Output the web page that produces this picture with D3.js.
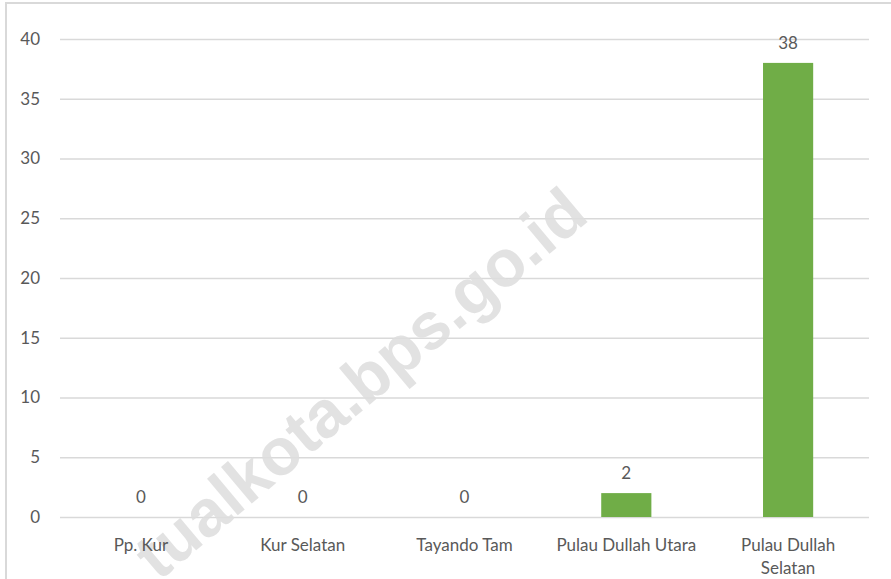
<!DOCTYPE html>
<html>
<head>
<meta charset="utf-8">
<script src="https://cdn.jsdelivr.net/npm/d3@7"></script>
<style>
  body { margin: 0; background: #fff; }
  text { font-family: Lato, "Open Sans", sans-serif; fill: #595959; }
</style>
</head>
<body>
<svg id="chart"></svg>
<script>
// data
let categories = ["Pp. Kur", "Kur Selatan", "Tayando Tam", "Pulau Dullah Utara", "Pulau Dullah Selatan"];
let values = [0, 0, 0, 2, 38];
let yTicks = [0, 5, 10, 15, 20, 25, 30, 35, 40];
let watermark = "tualkota.bps.go.id";

let width = 891, height = 579;
let plot = {left: 60, right: 869, top: 39, bottom: 517};

let svg = d3.select("#chart")
  .attr("width", width)
  .attr("height", height);

// outer chart border (only top and left visible)
svg.append("rect")
  .attr("x", 6).attr("y", 3)
  .attr("width", 1000).attr("height", 1000)
  .attr("fill", "none")
  .attr("stroke", "#d9d9d9")
  .attr("stroke-width", 2);

let x = d3.scaleBand()
  .domain(categories)
  .range([plot.left, plot.right])
  .paddingInner(0.69)
  .paddingOuter(0.345);

let y = d3.scaleLinear()
  .domain([0, 40])
  .range([plot.bottom, plot.top]);

// gridlines + y labels
let yAxis = svg.append("g")
  .attr("transform", "translate(" + plot.left + ",0)")
  .call(d3.axisLeft(y).tickValues(yTicks).tickSize(-(plot.right - plot.left)).tickPadding(20));
yAxis.select(".domain").remove();
yAxis.selectAll(".tick line").attr("stroke", "#d9d9d9").attr("stroke-width", 1.5);
yAxis.selectAll(".tick text")
  .attr("font-size", 17)
  .attr("fill", "#595959")
  .style("font-family", "Lato, sans-serif");

// watermark behind the bars
svg.append("text")
  .attr("transform", "translate(591,219) rotate(-40)")
  .attr("text-anchor", "end")
  .attr("font-size", 66)
  .attr("font-weight", "bold")
  .style("font-family", "'Liberation Sans', Arial, sans-serif")
  .style("fill", "#dedede")
  .attr("opacity", 0.85)
  .text(watermark);

// bars
let data = categories.map(function(c, i) { return {name: c, value: values[i]}; });

svg.selectAll(".bar")
  .data(data)
  .enter().append("rect")
  .attr("class", "bar")
  .attr("x", function(d) { return x(d.name); })
  .attr("width", x.bandwidth())
  .attr("y", function(d) { return y(d.value); })
  .attr("height", function(d) { return y(0) - y(d.value); })
  .attr("fill", "#70ad47");

// value labels
svg.selectAll(".val")
  .data(data)
  .enter().append("text")
  .attr("class", "val")
  .attr("x", function(d) { return x(d.name) + x.bandwidth() / 2; })
  .attr("y", function(d) { return y(d.value) - 14; })
  .attr("text-anchor", "middle")
  .attr("font-size", 17)
  .text(function(d) { return d.value; });

// category labels, wrapped to the band width
let maxW = x.step() * 0.9;
svg.selectAll(".cat")
  .data(categories)
  .enter().append("text")
  .attr("class", "cat")
  .attr("x", function(d) { return x(d) + x.bandwidth() / 2; })
  .attr("y", 551)
  .attr("text-anchor", "middle")
  .attr("font-size", 17)
  .each(function(d) {
    let el = d3.select(this);
    let words = d.split(" ");
    let line = [];
    let tspan = el.append("tspan").attr("x", el.attr("x")).attr("dy", 0);
    words.forEach(function(w) {
      line.push(w);
      tspan.text(line.join(" "));
      if (tspan.node().getComputedTextLength() > maxW && line.length > 1) {
        line.pop();
        tspan.text(line.join(" "));
        line = [w];
        tspan = el.append("tspan").attr("x", el.attr("x")).attr("dy", 23).text(w);
      }
    });
  });
</script>
</body>
</html>
